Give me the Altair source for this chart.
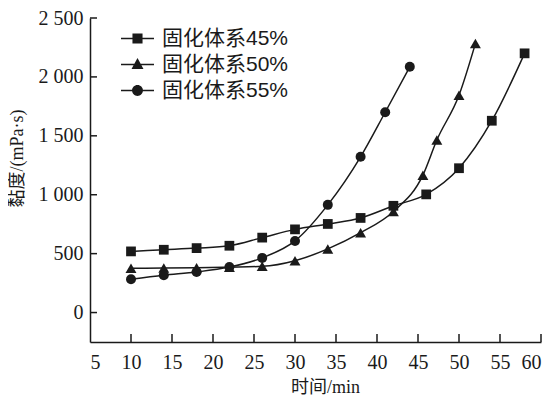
import altair as alt
import pandas as pd

series_names = ["固化体系45%", "固化体系50%", "固化体系55%"]

time45 = [10, 14, 18, 22, 26, 30, 34, 38, 42, 46, 50, 54, 58]
visc45 = [519, 533, 547, 567, 636, 706, 752, 803, 906, 1003, 1225, 1628, 2200]

time50 = [10, 14, 18, 22, 26, 30, 34, 38, 42, 45.6, 47.3, 50, 52]
visc50 = [375, 378, 380, 385, 392, 440, 540, 678, 858, 1166, 1464, 1844, 2283]

time55 = [10, 14, 18, 22, 26, 30, 34, 38, 41, 44]
visc55 = [283, 317, 344, 386, 464, 608, 914, 1322, 1700, 2086]

x_ticks = [5, 10, 15, 20, 25, 30, 35, 40, 45, 50, 55, 60]
y_ticks = [0, 500, 1000, 1500, 2000, 2500]

rows = []
for name, ts, vs in zip(series_names, [time45, time50, time55], [visc45, visc50, visc55]):
    for t, v in zip(ts, vs):
        rows.append({"series": name, "time": t, "visc": v})
df = pd.DataFrame(rows)

xt = pd.DataFrame({"time": [t for t in x_ticks if t > 5]})
yt = pd.DataFrame({"visc": y_ticks})

INK = "#1a1a1a"
SERIF = "Liberation Serif, Times New Roman, Noto Sans CJK SC"
CJK = "Liberation Sans, Noto Sans CJK SC"

H = 324

xscale = alt.Scale(domain=[5, 60], nice=False, zero=False)
yscale = alt.Scale(domain=[-250, 2500], nice=False, zero=False)

xaxis = alt.Axis(values=x_ticks, title="时间/min", ticks=False, labelPadding=10,
                 titleX=235, titleY=36, titleBaseline="top", titleAnchor="start",
                 titleAlign="center")
yaxis = alt.Axis(values=y_ticks, title="黏度/(mPa·s)", ticks=False, labelPadding=7,
                 labelExpr="replace(format(datum.value, ','), ',', ' ')",
                 titleX=-64, titleY=140, titleAlign="center", titleAnchor="start")

X = alt.X("time:Q", scale=xscale, axis=xaxis)
Y = alt.Y("visc:Q", scale=yscale, axis=yaxis)

base = alt.Chart(df)

lines = base.mark_line(interpolate="monotone", color=INK, strokeWidth=1.5).encode(
    x=X, y=Y, detail="series:N",
)

shapes = ["square", "triangle-up", "circle"]
sizes = [95, 120, 100]
point_layers = []
for name, shp, sz in zip(series_names, shapes, sizes):
    point_layers.append(
        base.transform_filter(alt.datum.series == name)
        .mark_point(filled=True, color=INK, opacity=1, shape=shp, size=sz)
        .encode(x=X, y=Y)
    )

bar = "M-1.57,-0.07H1.57V0.07H-1.57Z"
sq = bar + "M-0.48,-0.48H0.48V0.48H-0.48Z"
tri = bar + "M0,-0.62L0.57,0.43H-0.57Z"
cir = bar + "M0.52,0A0.52,0.52,0,1,1,-0.52,0A0.52,0.52,0,1,1,0.52,0Z"

legend_layer = base.mark_point(filled=True, color=INK, opacity=0).encode(
    x=X, y=Y,
    shape=alt.Shape("series:N", scale=alt.Scale(domain=series_names, range=[sq, tri, cir]),
                    legend=alt.Legend(title=None, orient="none", legendX=37, legendY=10,
                                      symbolSize=441, symbolOpacity=1,
                                      symbolFillColor=INK, symbolStrokeColor=INK,
                                      symbolStrokeWidth=0, labelFont=CJK,
                                      labelFontSize=21, labelColor=INK,
                                      labelOffset=14, rowPadding=4, padding=0)),
)

xtick_layer = alt.Chart(xt).mark_rule(color=INK, strokeWidth=1.5).encode(
    x=X, y=alt.value(H), y2=alt.value(H - 8),
)
ytick_layer = alt.Chart(yt).mark_rule(color=INK, strokeWidth=1.5).encode(
    y=Y, x=alt.value(0), x2=alt.value(7),
)

chart = alt.layer(lines, *point_layers, legend_layer, xtick_layer, ytick_layer).properties(
    width=451, height=H,
    background="white",
    autosize=alt.AutoSizeParams(type="none"),
    padding={"left": 82, "top": 10, "right": 4, "bottom": 55},
).configure_view(stroke=None).configure_axis(
    domainColor=INK, domainWidth=1.5, grid=False,
    labelFont=SERIF, labelFontSize=20, labelColor=INK,
    titleFont=SERIF, titleFontSize=18, titleColor=INK, titleFontWeight="normal",
)

chart.save("out.html", embed_options={"renderer": "svg", "actions": False})
